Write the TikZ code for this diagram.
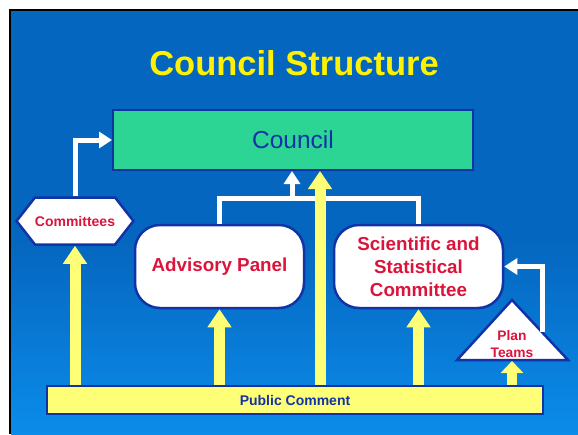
\documentclass[tikz,border=0pt]{standalone}
\usepackage{fontspec}
\setmainfont{Liberation Sans}
\usetikzlibrary{arrows.meta,shapes.symbols}
\definecolor{bgtop}{HTML}{0566BF}
\definecolor{bgbot}{HTML}{0B8CEA}
\definecolor{navy}{HTML}{1233A6}
\definecolor{mint}{HTML}{2CD594}
\definecolor{paleyellow}{HTML}{FFFF77}
\definecolor{crimson}{HTML}{DC143C}

\begin{document}
\begin{tikzpicture}[x=1pt,y=-1pt,
  every node/.style={align=center,inner sep=0pt},
  unit/.style={draw=navy,line width=2.5pt,fill=white,text=crimson,font=\bfseries\fontsize{18.8}{23}\selectfont,minimum width=169pt,minimum height=83pt,rounded corners=25pt},
  warr/.style={-{Triangle[width=16pt,length=13pt]},line width=5pt,white,line join=miter},
  yarr/.style={-{Triangle[width=23pt,length=18pt]},line width=11pt,paleyellow}
]
\useasboundingbox (0,0) rectangle (578,434);
\fill[white] (0,0) rectangle (578,434);
\fill[bgtop] (11,11) rectangle (578,434);
\shade[top color=bgtop,bottom color=bgbot] (11,240) rectangle (578,434);
\draw[black,line width=2pt] (10,434) -- (10,10) -- (578,10);

\node[text=yellow,font=\bfseries\fontsize{34.5}{40}\selectfont] (title) at (294,63) {Council Structure};
\node[draw=navy,line width=2pt,fill=mint,minimum width=360pt,minimum height=60pt,text=navy,font=\fontsize{24.5}{28}\selectfont] (council) at (293,140) {Council};
\node[signal,signal to=west and east,signal pointer angle=104,draw=navy,line width=2.5pt,fill=white,text=crimson,font=\bfseries\fontsize{14}{16}\selectfont,minimum width=116pt,minimum height=47pt] (comm) at (75,221) {Committees};
\node[unit] (adv) at (219.5,266.5) {Advisory Panel};
\node[unit] (ssc) at (418.5,266.5) {Scientific and\\Statistical\\Committee};
\coordinate (ptl) at (457,360);
\coordinate (ptt) at (512,300);
\coordinate (ptr) at (568,360);
\coordinate (ptb) at (512,361);
\coordinate (ptside) at (542,332);
\draw[navy,line width=2.5pt,fill=white,line join=miter] (ptl) -- (ptt) -- (ptr) -- cycle;
\node[text=crimson,font=\bfseries\fontsize{13.8}{17}\selectfont] (plan) at (512,344) {Plan\\Teams};
\node[draw=navy,line width=2.5pt,fill=paleyellow,minimum width=496pt,minimum height=28pt,text=navy,font=\bfseries\fontsize{14}{16}\selectfont] (pub) at (295,400) {Public Comment};

\coordinate (join) at (292,198);
\coordinate (trunk) at (320,180);
\draw[white,line width=5pt,line join=miter] (adv.north) -- (adv.north |- join) -- (ssc.north |- join) -- (ssc.north);
\draw[warr] (join) -- (join |- council.south);
\draw[warr] (comm.north) |- (council.west);
\draw[warr] (ptside) |- (ssc.east);

\draw[yarr] (pub.north -| comm.south) -- (comm.south);
\draw[yarr] (pub.north -| adv.south) -- (adv.south);
\draw[yarr] (pub.north -| ssc.south) -- (ssc.south);
\draw[yarr] (pub.north -| trunk) -- (council.south -| trunk);
\draw[-{Triangle[width=22pt,length=12pt]},line width=10pt,paleyellow] (pub.north -| ptb) -- (ptb);
\end{tikzpicture}
\end{document}
